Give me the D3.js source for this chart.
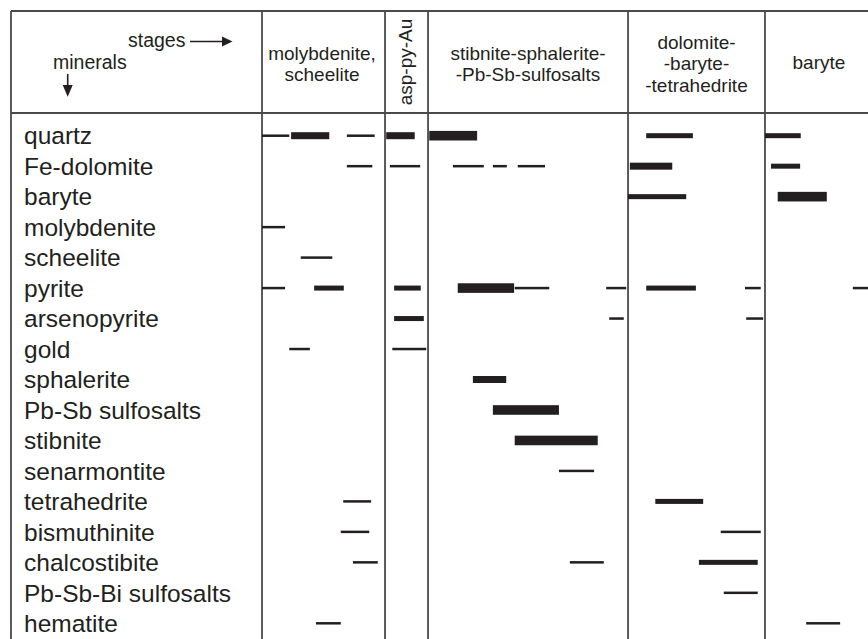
<!DOCTYPE html>
<html>
<head>
<meta charset="utf-8">
<script src="https://cdn.jsdelivr.net/npm/d3@7"></script>
<style>
  html, body { margin: 0; padding: 0; background: #fff; }
  svg { display: block; }
  text { font-family: "Liberation Sans", Arial, Helvetica, sans-serif; fill: #231f20; }
</style>
</head>
<body>
<svg id="chart" width="868" height="639"></svg>
<script>
// Minerals, top to bottom
const minerals = [
  "quartz", "Fe-dolomite", "baryte", "molybdenite", "scheelite", "pyrite",
  "arsenopyrite", "gold", "sphalerite", "Pb-Sb sulfosalts", "stibnite",
  "senarmontite", "tetrahedrite", "bismuthinite", "chalcostibite",
  "Pb-Sb-Bi sulfosalts", "hematite"
];

// Mineralization stages (label lines) and their boundaries on the relative time axis
const stages = [
  ["molybdenite,", "scheelite"],
  ["asp-py-Au"],
  ["stibnite-sphalerite-", "-Pb-Sb-sulfosalts"],
  ["dolomite-", "-baryte-", "-tetrahedrite"],
  ["baryte"]
];
const stageEdges = [0, 20.3, 27.4, 60.4, 83.0, 100.8];

// Abundance classes: 1 = minor, 2 = common, 3 = abundant, 4 = major
const abundanceClasses = [1, 2, 3, 4];

// Occurrence intervals: [mineral, start, end, abundance]
const occurrences = [
  ["quartz", 0, 4.5, 1], ["quartz", 4.8, 11.1, 3], ["quartz", 14.0, 18.6, 1],
  ["quartz", 20.5, 25.2, 3], ["quartz", 27.6, 35.5, 4], ["quartz", 63.4, 71.1, 2],
  ["quartz", 83.0, 88.9, 2],
  ["Fe-dolomite", 14.0, 18.2, 1], ["Fe-dolomite", 21.1, 26.1, 1], ["Fe-dolomite", 31.5, 36.6, 1],
  ["Fe-dolomite", 38.1, 40.4, 1], ["Fe-dolomite", 42.2, 46.7, 1], ["Fe-dolomite", 60.7, 67.7, 3],
  ["Fe-dolomite", 84.0, 88.8, 2],
  ["baryte", 60.4, 70.0, 2], ["baryte", 85.1, 93.2, 4],
  ["molybdenite", 0, 3.8, 1],
  ["scheelite", 6.4, 11.6, 1],
  ["pyrite", 0, 3.8, 1], ["pyrite", 8.6, 13.5, 2], ["pyrite", 21.8, 26.2, 2],
  ["pyrite", 32.3, 41.6, 4], ["pyrite", 41.7, 47.4, 1], ["pyrite", 56.8, 60.1, 1],
  ["pyrite", 63.4, 71.6, 2], ["pyrite", 79.7, 82.3, 1], ["pyrite", 97.5, 101, 1],
  ["arsenopyrite", 21.8, 26.7, 2], ["arsenopyrite", 57.3, 59.7, 1], ["arsenopyrite", 79.9, 82.7, 1],
  ["gold", 4.5, 7.9, 1], ["gold", 21.5, 27.1, 1],
  ["sphalerite", 34.8, 40.3, 3],
  ["Pb-Sb sulfosalts", 38.1, 49.0, 4],
  ["stibnite", 41.7, 55.4, 4],
  ["senarmontite", 49.0, 54.8, 1],
  ["tetrahedrite", 13.4, 18.0, 1], ["tetrahedrite", 64.9, 72.8, 2],
  ["bismuthinite", 13.0, 17.7, 1], ["bismuthinite", 75.7, 82.3, 1],
  ["chalcostibite", 15.0, 19.1, 1], ["chalcostibite", 50.8, 56.4, 1], ["chalcostibite", 72.1, 81.8, 2],
  ["Pb-Sb-Bi sulfosalts", 76.2, 81.8, 1],
  ["hematite", 8.9, 13.0, 1], ["hematite", 89.8, 95.4, 1]
];

const svg = d3.select("#chart");
const ink = "#231f20";
const rule = "#4a4a4a";

const frame = { left: 11, top: 11, header: 113, bottom: 645, right: 875 };

const x = d3.scaleLinear().domain([0, 100]).range([262, 868]);
const y = d3.scalePoint().domain(minerals).range([135.7, 623.3]);
const thickness = d3.scaleOrdinal().domain(abundanceClasses).range([2.5, 5, 7, 9.6]);

// Table frame
const grid = svg.append("g").attr("stroke", rule).attr("stroke-width", 1.8).attr("fill", "none");
grid.append("line").attr("x1", frame.left).attr("x2", frame.right)
  .attr("y1", frame.top).attr("y2", frame.top);
grid.append("line").attr("x1", frame.left).attr("x2", frame.right)
  .attr("y1", frame.header).attr("y2", frame.header);
grid.append("line").attr("x1", frame.left).attr("x2", frame.left)
  .attr("y1", frame.top).attr("y2", frame.bottom);
grid.selectAll("line.stage")
  .data(stageEdges.slice(0, -1))
  .join("line")
  .attr("class", "stage")
  .attr("x1", d => x(d)).attr("x2", d => x(d))
  .attr("y1", frame.top).attr("y2", frame.bottom);

// Stage headings
const headFont = 19;
const stageG = svg.append("g").attr("font-size", headFont).attr("text-anchor", "middle");
const stageLayout = [
  { baselines: [60, 81], dx: -1.5 },
  { rotated: true },
  { baselines: [60, 81], dx: 0 },
  { baselines: [49, 70, 91.5], dx: 0 },
  { baselines: [69], dx: 0 }
];
stages.forEach((lines, i) => {
  const cx = (x(stageEdges[i]) + x(stageEdges[i + 1])) / 2;
  const lay = stageLayout[i];
  if (lay.rotated) {
    stageG.append("text")
      .attr("transform", `translate(${cx + 5},${(frame.top + frame.header) / 2}) rotate(-90)`)
      .text(lines[0]);
  } else {
    lines.forEach((t, j) => {
      stageG.append("text").attr("x", cx + lay.dx).attr("y", lay.baselines[j]).text(t);
    });
  }
});

// Corner legend: "stages →" and "minerals ↓"
const corner = svg.append("g").attr("font-size", 19.5);
corner.append("text").attr("x", 128).attr("y", 46.5).text("stages");
corner.append("line").attr("x1", 190).attr("x2", 224).attr("y1", 41.5).attr("y2", 41.5)
  .attr("stroke", ink).attr("stroke-width", 1.6);
corner.append("path").attr("d", "M222,36.5 L232.5,41.5 L222,46.5 Z").attr("fill", ink);
corner.append("text").attr("x", 53).attr("y", 69).text("minerals");
corner.append("line").attr("x1", 67.7).attr("x2", 67.7).attr("y1", 74).attr("y2", 87)
  .attr("stroke", ink).attr("stroke-width", 1.6);
corner.append("path").attr("d", "M62.7,85 L67.7,96.7 L72.7,85 Z").attr("fill", ink);

// Mineral names
svg.append("g").attr("font-size", 24.5)
  .selectAll("text")
  .data(minerals)
  .join("text")
  .attr("x", 24)
  .attr("y", d => y(d) + 8.7)
  .text(d => d);

// Occurrence bars, thickness by abundance
svg.append("g").attr("fill", ink)
  .selectAll("rect")
  .data(occurrences)
  .join("rect")
  .attr("x", d => x(d[1]))
  .attr("width", d => x(d[2]) - x(d[1]))
  .attr("y", d => y(d[0]) - thickness(d[3]) / 2)
  .attr("height", d => thickness(d[3]));
</script>
</body>
</html>
